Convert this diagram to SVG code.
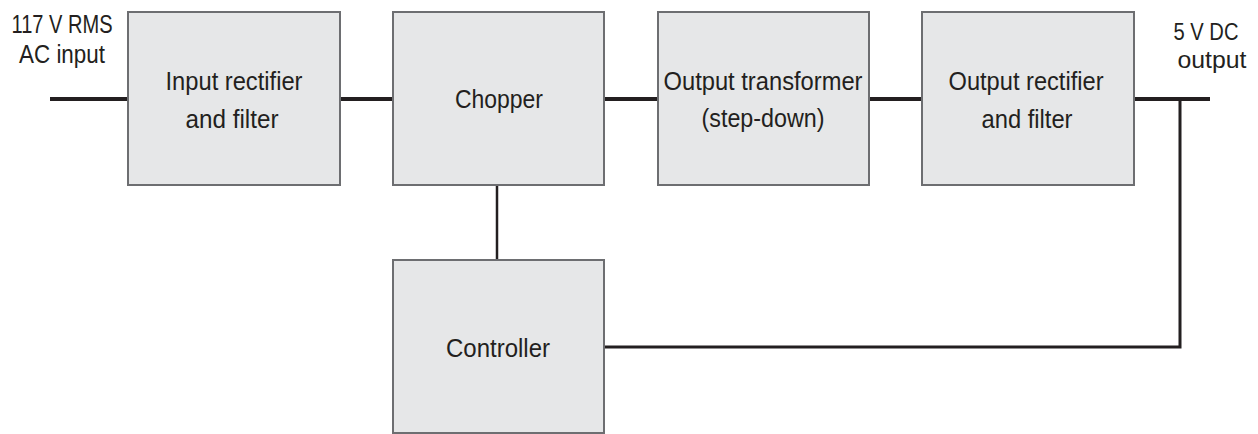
<svg xmlns="http://www.w3.org/2000/svg" width="1258" height="434" viewBox="0 0 1258 434">
<style>
.box{fill:#e6e7e8;stroke:#6d6e71;stroke-width:2}
.t{font-family:"Liberation Sans Narrow","Liberation Sans",Arial,sans-serif;font-size:25px;fill:#231f20;text-anchor:middle}
.s{font-size:24px}
.w{stroke:#231f20;fill:none}
</style>
<rect width="1258" height="434" fill="#ffffff"/>
<g id="connectors">
<line class="w" x1="50" y1="99" x2="128" y2="99" stroke-width="4"/>
<line class="w" x1="340" y1="99" x2="393" y2="99" stroke-width="4"/>
<line class="w" x1="604" y1="99" x2="658" y2="99" stroke-width="4"/>
<line class="w" x1="869" y1="99" x2="922" y2="99" stroke-width="4"/>
<line class="w" x1="1134" y1="99" x2="1210" y2="99" stroke-width="4"/>
<line class="w" x1="497" y1="185" x2="497" y2="260" stroke-width="2.5"/>
<polyline class="w" points="604,347 1180,347 1180,99" stroke-width="3"/>
</g>
<g id="label-input">
<text class="t" x="62" y="33" textLength="101" lengthAdjust="spacingAndGlyphs">117 V RMS</text>
<text class="t" x="62" y="63" textLength="86" lengthAdjust="spacingAndGlyphs">AC input</text>
</g>
<g id="label-output">
<text class="t s" x="1206" y="40" textLength="65" lengthAdjust="spacingAndGlyphs">5 V DC</text>
<text class="t s" x="1212" y="68" textLength="69" lengthAdjust="spacingAndGlyphs">output</text>
</g>
<g id="input-rectifier">
<rect class="box" x="128" y="12" width="212" height="173"/>
<text class="t" x="234" y="90" textLength="137" lengthAdjust="spacingAndGlyphs">Input rectifier</text>
<text class="t" x="232" y="128" textLength="93" lengthAdjust="spacingAndGlyphs">and filter</text>
</g>
<g id="chopper">
<rect class="box" x="393" y="12" width="211" height="173"/>
<text class="t" x="499" y="108" textLength="88" lengthAdjust="spacingAndGlyphs">Chopper</text>
</g>
<g id="output-transformer">
<rect class="box" x="658" y="12" width="211" height="173"/>
<text class="t" x="763" y="90" textLength="199" lengthAdjust="spacingAndGlyphs">Output transformer</text>
<text class="t" x="763" y="127" textLength="123" lengthAdjust="spacingAndGlyphs">(step-down)</text>
</g>
<g id="output-rectifier">
<rect class="box" x="922" y="12" width="212" height="173"/>
<text class="t" x="1026" y="90" textLength="155" lengthAdjust="spacingAndGlyphs">Output rectifier</text>
<text class="t" x="1027" y="128" textLength="91" lengthAdjust="spacingAndGlyphs">and filter</text>
</g>
<g id="controller">
<rect class="box" x="393" y="260" width="211" height="173"/>
<text class="t" x="498" y="357" textLength="104" lengthAdjust="spacingAndGlyphs">Controller</text>
</g>
</svg>
